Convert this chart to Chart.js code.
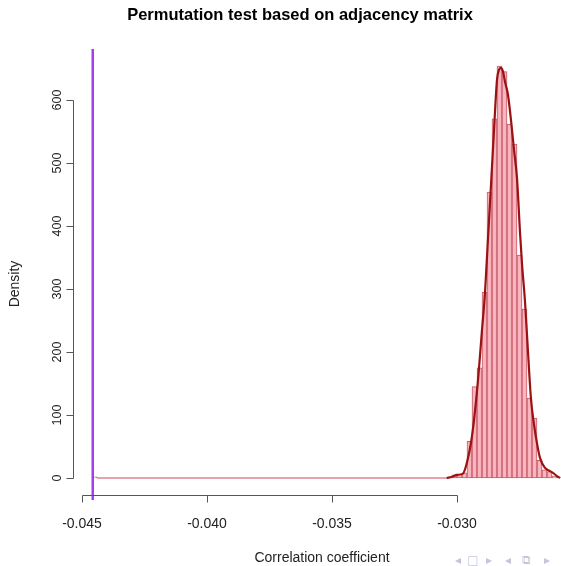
<!DOCTYPE html>
<html><head><meta charset="utf-8">
<script src="https://cdn.jsdelivr.net/npm/chart.js@4/dist/chart.umd.min.js"></script>
<style>html,body{margin:0;padding:0;background:#fff;}#wrap{width:561px;height:566px;position:relative;}</style>
</head><body><div id="wrap"><canvas id="c" width="561" height="566"></canvas></div>
<script>
const chartTitle = "Permutation test based on adjacency matrix";
const xTitle = "Correlation coefficient";
const yTitle = "Density";
const xTicks = [-0.045, -0.040, -0.035, -0.030];
const xTickLabels = ["-0.045", "-0.040", "-0.035", "-0.030"];
const yTicks = [0, 100, 200, 300, 400, 500, 600];
const yTickLabels = ["0", "100", "200", "300", "400", "500", "600"];
const binWidth = 0.0002;
const binLeft = [-0.0446, -0.0304, -0.0302, -0.0300, -0.0298, -0.0296, -0.0294, -0.0292, -0.0290, -0.0288, -0.0286, -0.0284, -0.0282, -0.0280, -0.0278, -0.0276, -0.0274, -0.0272, -0.0270, -0.0268, -0.0266, -0.0264, -0.0262, -0.0260];
const binDensity = [2, 1, 5, 6, 8, 58, 145, 175, 295, 454, 570, 654, 645, 562, 530, 354, 268, 127, 95, 28, 13, 10, 3, 1];
const emptyBinsFrom = -0.0444;
const emptyBinsTo = -0.0304;
const curveX = [-0.03041, -0.0302, -0.0300, -0.02976, -0.0296, -0.02944, -0.02932, -0.02916, -0.0290, -0.02888, -0.02876, -0.02864, -0.02852, -0.0284, -0.02832, -0.02824, -0.02816, -0.02808, -0.02796, -0.02784, -0.02772, -0.0276, -0.02748, -0.0274, -0.02728, -0.02716, -0.02704, -0.02692, -0.0268, -0.02668, -0.02648, -0.02628, -0.02616, -0.0260, -0.02588];
const curveY = [0, 2, 5, 7, 25, 56, 92, 155, 235, 294, 381, 465, 552, 632, 648, 651, 645, 629, 608, 568, 521, 476, 390, 340, 280, 200, 125, 85, 55, 32, 16, 11, 8, 3, 0];
const observedValue = -0.04457;
const navSymbols = ["◂", "□", "▸", "◂", "⧉", "▸"];

const barData = binLeft.map((l, i) => ({x: l + binWidth / 2, y: binDensity[i]}));
const curveData = curveX.map((v, i) => ({x: v, y: curveY[i]}));

const rAxes = {
  id: 'rAxes',
  afterDraw(chart) {
    const {ctx, chartArea, scales: {x, y}} = chart;
    ctx.save();
    ctx.strokeStyle = '#555';
    ctx.lineWidth = 1;
    const yb = Math.round(chartArea.bottom) + 0.5;
    const x0 = Math.round(x.getPixelForValue(xTicks[0])) + 0.5;
    const x1 = Math.round(x.getPixelForValue(xTicks[xTicks.length - 1])) + 0.5;
    ctx.beginPath(); ctx.moveTo(x0, yb); ctx.lineTo(x1, yb);
    xTicks.forEach(t => { const p = Math.round(x.getPixelForValue(t)) + 0.5; ctx.moveTo(p, yb); ctx.lineTo(p, yb + 7); });
    ctx.stroke();
    const xl = Math.round(chartArea.left) + 0.5;
    const ya = Math.round(y.getPixelForValue(yTicks[0])) + 0.5;
    const yz = Math.round(y.getPixelForValue(yTicks[yTicks.length - 1])) + 0.5;
    ctx.beginPath(); ctx.moveTo(xl, ya); ctx.lineTo(xl, yz);
    yTicks.forEach(t => { const p = Math.round(y.getPixelForValue(t)) + 0.5; ctx.moveTo(xl, p); ctx.lineTo(xl - 7, p); });
    ctx.stroke();
    ctx.fillStyle = '#222';
    ctx.textAlign = 'center';
    ctx.textBaseline = 'middle';
    ctx.font = '14px "Liberation Sans", Arial, sans-serif';
    xTicks.forEach((t, i) => ctx.fillText(xTickLabels[i], x.getPixelForValue(t), 524));
    ctx.font = '12.5px "Liberation Sans", Arial, sans-serif';
    yTicks.forEach((t, i) => {
      ctx.save(); ctx.translate(58, y.getPixelForValue(t)); ctx.rotate(-Math.PI / 2);
      ctx.fillText(yTickLabels[i], 0, 0); ctx.restore();
    });
    ctx.font = '14px "Liberation Sans", Arial, sans-serif';
    ctx.fillText(xTitle, 322, 558);
    ctx.save(); ctx.translate(15, (chartArea.top + chartArea.bottom) / 2 + 12); ctx.rotate(-Math.PI / 2);
    ctx.fillText(yTitle, 0, 0); ctx.restore();
    ctx.font = 'bold 16.5px "Liberation Sans", Arial, sans-serif';
    ctx.fillStyle = '#000';
    ctx.fillText(chartTitle, 300, 15);
    ctx.fillStyle = '#c4c6d8';
    ctx.font = '12px "DejaVu Sans", sans-serif';
    const navX = [458, 473, 489, 508, 526, 547];
    navSymbols.forEach((s, i) => ctx.fillText(s, navX[i], 561));
    ctx.restore();
  }
};

new Chart(document.getElementById('c'), {
  type: 'bar',
  data: {
    datasets: [
      {type: 'line', data: [{x: emptyBinsFrom, y: 0}, {x: emptyBinsTo, y: 0}], borderColor: 'rgba(215,90,105,0.75)', borderWidth: 1.5, pointRadius: 0, order: 4},
      {type: 'bar', data: barData, backgroundColor: 'rgba(250,178,190,0.95)', borderColor: 'rgba(185,55,70,0.8)', borderWidth: 1, borderSkipped: false, barPercentage: 1, categoryPercentage: 1, order: 3},
      {type: 'line', data: curveData, borderColor: '#9a1212', borderWidth: 2.2, pointRadius: 0, cubicInterpolationMode: 'monotone', order: 2},
      {type: 'line', data: [{x: observedValue, y: -35}, {x: observedValue, y: 681}], borderColor: '#a43cf0', borderWidth: 2.5, pointRadius: 0, clip: false, order: 1}
    ]
  },
  options: {
    responsive: false,
    animation: false,
    devicePixelRatio: 1,
    layout: {padding: {left: 73, right: 0, top: 49, bottom: 71}},
    plugins: {legend: {display: false}, tooltip: {enabled: false}, title: {display: false}},
    scales: {
      x: {type: 'linear', display: false, offset: false, min: -0.04536, max: -0.02584},
      y: {type: 'linear', display: false, min: -27, max: 681}
    }
  },
  plugins: [rAxes]
});
</script>
</body></html>
